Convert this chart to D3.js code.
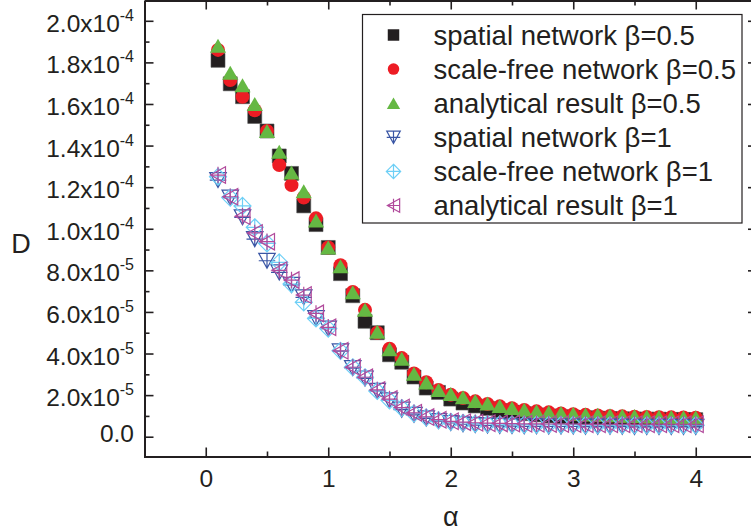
<!DOCTYPE html>
<html>
<head>
<meta charset="utf-8">
<script src="https://cdn.jsdelivr.net/npm/d3@7"></script>
<style>
body { margin: 0; background: #fff; }
svg { display: block; font-family: Arial, "Liberation Sans", sans-serif; }
</style>
</head>
<body>
<script>
// values of D are given in units of 1e-5
var unit = 1e-5;

var alpha = [0.1, 0.2, 0.3, 0.4, 0.5, 0.6, 0.7, 0.8, 0.9, 1.0,
             1.1, 1.2, 1.3, 1.4, 1.5, 1.6, 1.7, 1.8, 1.9, 2.0,
             2.1, 2.2, 2.3, 2.4, 2.5, 2.6, 2.7, 2.8, 2.9, 3.0,
             3.1, 3.2, 3.3, 3.4, 3.5, 3.6, 3.7, 3.8, 3.9, 4.0];

var spatial05 = [18.1, 16.97, 16.35, 15.4, 14.7, 13.5, 12.66, 11.1, 10.2, 9.1,
                 7.84, 6.78, 5.55, 5.0, 3.94, 3.58, 2.87, 2.34, 2.13, 1.81,
                 1.62, 1.48, 1.36, 1.26, 1.18, 1.11, 1.05, 1.0, 0.96, 0.93,
                 0.91, 0.89, 0.87, 0.86, 0.85, 0.84, 0.84, 0.83, 0.83, 0.82];

var scaleFree05 = [18.6, 17.15, 16.35, 15.7, 14.7, 13.06, 12.1, 11.5, 10.5, 9.1,
                   8.25, 6.96, 6.1, 5.0, 4.23, 3.78, 3.04, 2.62, 2.25, 2.02,
                   1.86, 1.7, 1.57, 1.46, 1.37, 1.29, 1.22, 1.17, 1.12, 1.08,
                   1.05, 1.02, 1.0, 0.98, 0.96, 0.95, 0.94, 0.93, 0.92, 0.91];

var analytic05 = [18.8, 17.5, 16.9, 16.0, 14.7, 13.7, 12.7, 11.8, 10.4, 9.1,
                  8.2, 6.95, 6.1, 5.05, 4.2, 3.75, 3.03, 2.61, 2.25, 2.05,
                  1.9, 1.72, 1.6, 1.48, 1.38, 1.3, 1.23, 1.18, 1.14, 1.1,
                  1.07, 1.05, 1.03, 1.01, 0.99, 0.97, 0.96, 0.95, 0.94, 0.93];

var spatial1 = [12.34, 11.5, 10.55, 9.5, 8.46, 7.9, 7.3, 6.7, 5.7, 5.2,
                4.1, 3.3, 2.8, 2.2, 1.75, 1.3, 1.05, 0.88, 0.75, 0.66,
                0.6, 0.56, 0.54, 0.52, 0.51, 0.5, 0.5, 0.49, 0.49, 0.49,
                0.48, 0.48, 0.48, 0.48, 0.47, 0.47, 0.47, 0.47, 0.47, 0.47];

var scaleFree1 = [12.5, 11.5, 11.1, 10.07, 9.3, 8.38, 7.34, 6.46, 5.69, 5.2,
                  4.13, 3.34, 2.86, 2.2, 1.75, 1.38, 1.12, 0.93, 0.8, 0.72,
                  0.67, 0.63, 0.61, 0.6, 0.59, 0.58, 0.58, 0.57, 0.57, 0.57,
                  0.56, 0.56, 0.56, 0.56, 0.55, 0.55, 0.55, 0.55, 0.55, 0.55];

var analytic1 = [12.58, 11.54, 10.6, 9.8, 9.38, 8.0, 7.53, 6.81, 5.93, 5.26,
                 4.13, 3.34, 2.86, 2.25, 1.81, 1.4, 1.15, 0.95, 0.82, 0.74,
                 0.7, 0.67, 0.65, 0.64, 0.63, 0.62, 0.62, 0.61, 0.61, 0.61,
                 0.6, 0.6, 0.6, 0.6, 0.6, 0.6, 0.6, 0.6, 0.6, 0.6];

var seriesNames = ["spatial network \u03b2=0.5", "scale-free network \u03b2=0.5", "analytical result \u03b2=0.5",
                   "spatial network \u03b2=1", "scale-free network \u03b2=1", "analytical result \u03b2=1"];

var xTicks = [0, 1, 2, 3, 4];
var xMinorTicks = [0.5, 1.5, 2.5, 3.5];
var yTicks = [0, 2e-5, 4e-5, 6e-5, 8e-5, 1e-4, 1.2e-4, 1.4e-4, 1.6e-4, 1.8e-4, 2e-4];
var yMinorTicks = [1e-5, 3e-5, 5e-5, 7e-5, 9e-5, 1.1e-4, 1.3e-4, 1.5e-4, 1.7e-4, 1.9e-4];

var ink = "#231f20";

// marker shapes, drawn around (0,0)
function square(s) { var h = s / 2; return "M" + -h + "," + -h + "H" + h + "V" + h + "H" + -h + "Z"; }
function circle(s) { var r = s / 2; return "M" + r + ",0A" + r + "," + r + " 0 1,1 " + -r + ",0A" + r + "," + r + " 0 1,1 " + r + ",0Z"; }
function triUp(s) { var w = s * 0.58, h = s / 2; return "M0," + -h + "L" + w + "," + h + "L" + -w + "," + h + "Z"; }
function triDown(s) { var w = s * 0.55, h = s / 2; return "M" + -w + "," + -h + "L" + w + "," + -h + "L0," + h + "Z" + "M0," + -h + "V" + h + "M" + -w + ",0H" + w; }
function diamond(s) { var h = s / 2 + 1; return "M0," + -h + "L" + h + ",0L0," + h + "L" + -h + ",0Z" + "M0," + -h + "V" + h + "M" + -h + ",0H" + h; }
function triLeft(s) { var w = s / 2, h = s * 0.55; return "M" + -w + ",0L" + w + "," + -h + "L" + w + "," + h + "Z" + "M" + -w + ",0H" + w + "M0," + -h + "V" + h; }

var series = [
  {values: spatial05,   shape: square,  size: 14, fill: ink,       stroke: "#555"},
  {values: scaleFree05, shape: circle,  size: 14, fill: "#ed1c24", stroke: "none"},
  {values: analytic05,  shape: triUp,   size: 14, fill: "#65b843", stroke: "none"},
  {values: spatial1,    shape: triDown, size: 15, fill: "none",    stroke: "#3a56a5"},
  {values: scaleFree1,  shape: diamond, size: 15, fill: "none",    stroke: "#6dcff6"},
  {values: analytic1,   shape: triLeft, size: 15, fill: "none",    stroke: "#b14a9c"}
];

var svg = d3.select("body").append("svg")
    .attr("width", 751)
    .attr("height", 531);

var x = d3.scaleLinear().domain([-0.5, 4.5]).range([144.5, 757]);
var y = d3.scaleLinear().domain([-1e-5, 2.1e-4]).range([457.5, 0]);

// data markers
series.forEach(function(s) {
  svg.append("g").selectAll("path")
      .data(s.values)
    .enter().append("path")
      .attr("transform", function(d, i) { return "translate(" + x(alpha[i]) + "," + y(d * unit) + ")"; })
      .attr("d", s.shape(s.size))
      .attr("fill", s.fill)
      .attr("stroke", s.stroke)
      .attr("stroke-width", s.fill === "none" ? 1.2 : 0.6);
});

function fmtY(v) {
  if (v === 0) return ["0.0", ""];
  var e = Math.floor(Math.log10(v) + 1e-9);
  return [(v / Math.pow(10, e)).toFixed(1) + "x10", String(e)];
}

function styleAxis(g) {
  g.select(".domain").attr("stroke", ink).attr("stroke-width", 2);
  g.selectAll(".tick line").attr("stroke", ink).attr("stroke-width", 1.6);
  g.selectAll(".tick text").attr("fill", ink);
}

// left axis
var gy = svg.append("g")
    .attr("transform", "translate(" + x.range()[0] + ",0)")
    .call(d3.axisLeft(y).tickValues(yTicks).tickSizeInner(-9).tickSizeOuter(0).tickPadding(10.5))
    .attr("font-size", 24.5).attr("font-family", null);
styleAxis(gy);
gy.selectAll(".tick text").each(function(d) {
  var parts = fmtY(d);
  var t = d3.select(this).text("").attr("dy", null).attr("y", d === 0 ? 5 : 10.5);
  t.append("tspan").text(parts[0]);
  if (parts[1]) t.append("tspan").attr("dy", -11).attr("font-size", 16).text(parts[1]);
});
svg.append("g")
    .attr("transform", "translate(" + x.range()[0] + ",0)")
    .call(d3.axisLeft(y).tickValues(yMinorTicks).tickSizeInner(-5).tickSizeOuter(0).tickFormat(""))
    .call(styleAxis)
    .select(".domain").remove();

// right axis
svg.append("g")
    .attr("transform", "translate(" + x.range()[1] + ",0)")
    .call(d3.axisRight(y).tickValues(yTicks).tickSizeInner(-9).tickSizeOuter(0).tickFormat(""))
    .call(styleAxis);
svg.append("g")
    .attr("transform", "translate(" + x.range()[1] + ",0)")
    .call(d3.axisRight(y).tickValues(yMinorTicks).tickSizeInner(-5).tickSizeOuter(0).tickFormat(""))
    .call(styleAxis)
    .select(".domain").remove();

// bottom axis
var gx = svg.append("g")
    .attr("transform", "translate(0," + (y.range()[0] - 1) + ")")
    .call(d3.axisBottom(x).tickValues(xTicks).tickSizeInner(-9).tickSizeOuter(0).tickFormat(d3.format("d")))
    .attr("font-size", 24.5).attr("font-family", null);
styleAxis(gx);
gx.selectAll(".tick text").attr("dy", null).attr("y", 30);
svg.append("g")
    .attr("transform", "translate(0," + (y.range()[0] - 1) + ")")
    .call(d3.axisBottom(x).tickValues(xMinorTicks).tickSizeInner(-5).tickSizeOuter(0).tickFormat(""))
    .call(styleAxis)
    .select(".domain").remove();

// top axis
svg.append("g")
    .attr("transform", "translate(0," + (y.range()[1] + 0.5) + ")")
    .call(d3.axisTop(x).tickValues(xTicks).tickSizeInner(-9).tickSizeOuter(0).tickFormat(""))
    .call(styleAxis);
svg.append("g")
    .attr("transform", "translate(0," + (y.range()[1] + 0.5) + ")")
    .call(d3.axisTop(x).tickValues(xMinorTicks).tickSizeInner(-5).tickSizeOuter(0).tickFormat(""))
    .call(styleAxis)
    .select(".domain").remove();

// axis titles
svg.append("text")
    .attr("x", (x.range()[0] + x.range()[1]) / 2)
    .attr("y", 526)
    .attr("text-anchor", "middle")
    .attr("font-size", 27)
    .attr("fill", ink)
    .text("\u03b1");

svg.append("text")
    .attr("x", 21)
    .attr("y", 253)
    .attr("text-anchor", "middle")
    .attr("font-size", 27)
    .attr("fill", ink)
    .text("D");

// legend
var legend = svg.append("g").attr("transform", "translate(362.5,14.5)");
legend.append("rect")
    .attr("width", 379.5)
    .attr("height", 208.5)
    .attr("fill", "#fff")
    .attr("stroke", ink)
    .attr("stroke-width", 1.2);

var rows = legend.selectAll(".row")
    .data(series)
  .enter().append("g")
    .attr("class", "row")
    .attr("transform", function(d, i) { return "translate(0," + (20.5 + i * 34.1) + ")"; });

rows.append("path")
    .attr("transform", "translate(31,0)")
    .attr("d", function(d) { return d.shape(d.size * 0.82); })
    .attr("fill", function(d) { return d.fill; })
    .attr("stroke", function(d) { return d.stroke; })
    .attr("stroke-width", function(d) { return d.fill === "none" ? 1.2 : 0; });

rows.append("text")
    .attr("x", 71)
    .attr("y", 9.6)
    .attr("font-size", 27.5)
    .attr("fill", ink)
    .text(function(d, i) { return seriesNames[i]; });
</script>
</body>
</html>
